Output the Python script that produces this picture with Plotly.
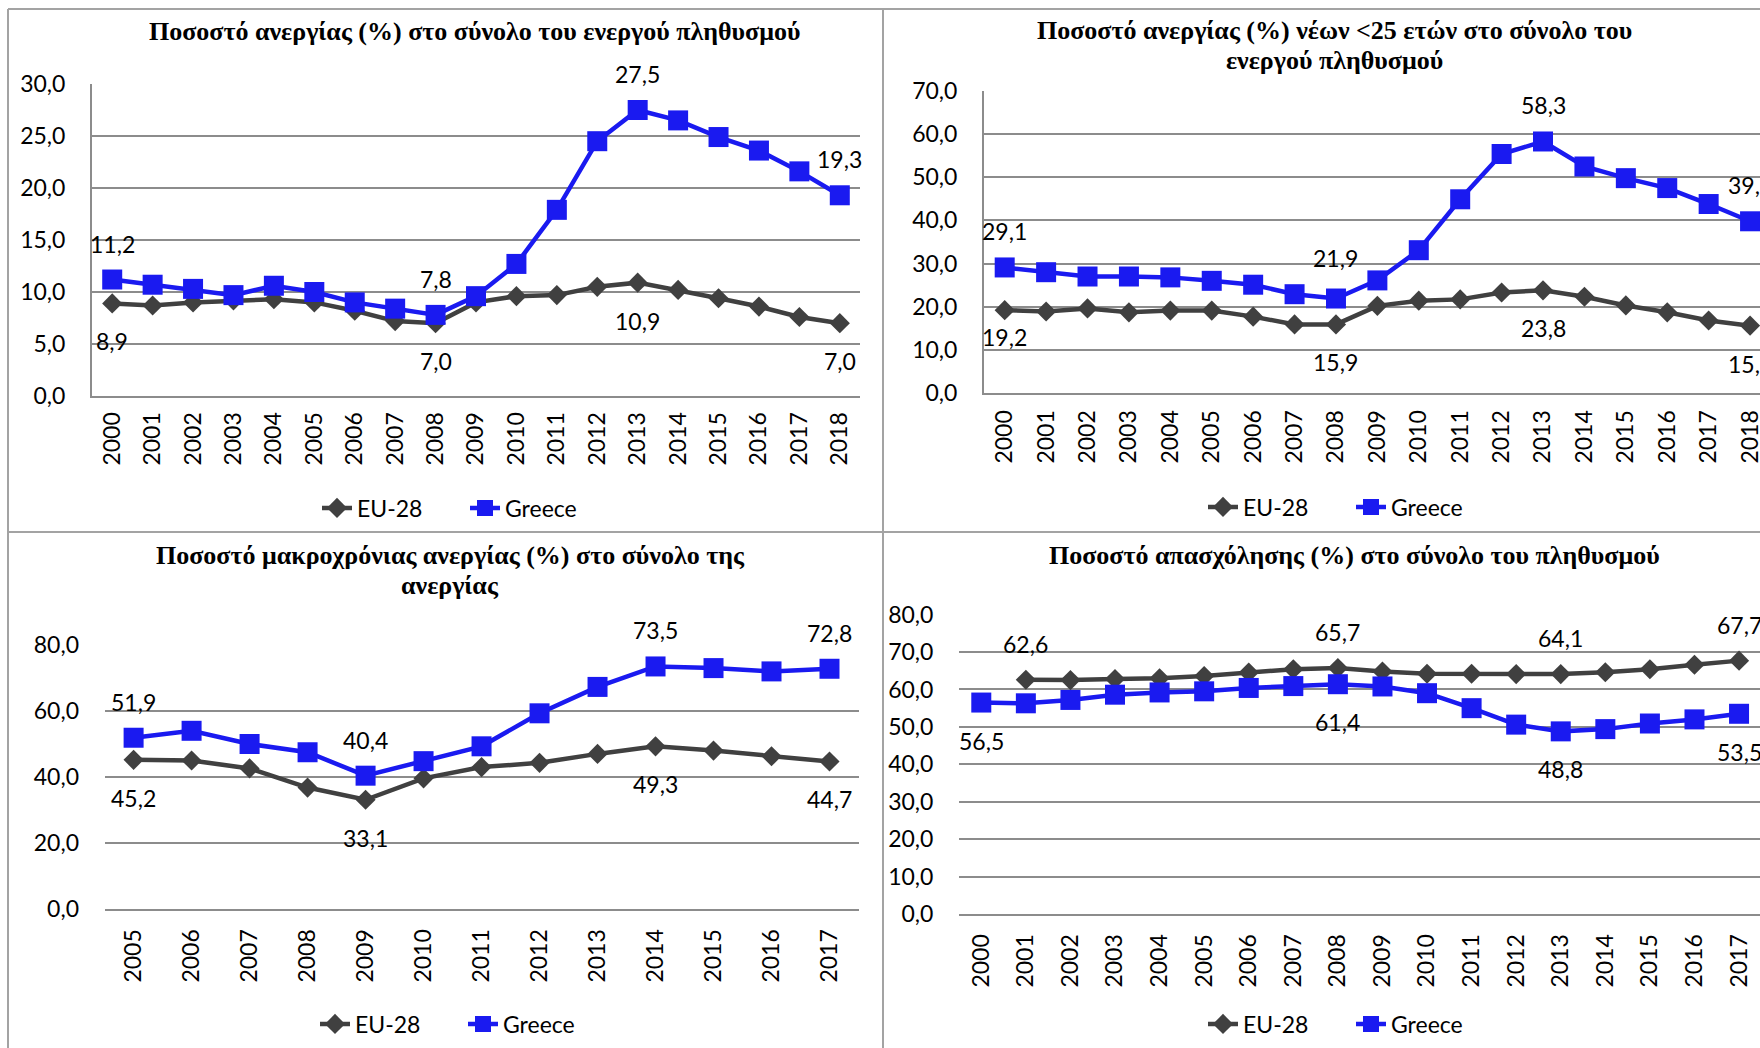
import plotly.graph_objects as go

W, H = 1760, 1048

# ---- categories -------------------------------------------------------
years_00_18 = ["2000", "2001", "2002", "2003", "2004", "2005", "2006", "2007", "2008", "2009",
               "2010", "2011", "2012", "2013", "2014", "2015", "2016", "2017", "2018"]
years_00_17 = years_00_18[:-1]
years_01_17 = years_00_18[1:-1]
years_05_17 = ["2005", "2006", "2007", "2008", "2009", "2010", "2011", "2012", "2013",
               "2014", "2015", "2016", "2017"]

# ---- series -----------------------------------------------------------
unemp_eu = [8.9, 8.7, 9.0, 9.2, 9.3, 9.0, 8.2, 7.2, 7.0, 9.0, 9.6, 9.7, 10.5, 10.9, 10.2, 9.4, 8.6, 7.6, 7.0]
unemp_gr = [11.2, 10.7, 10.3, 9.7, 10.6, 10.0, 9.0, 8.4, 7.8, 9.6, 12.7, 17.9, 24.5, 27.5, 26.5, 24.9, 23.6, 21.6, 19.3]

youth_eu = [19.2, 18.9, 19.6, 18.7, 19.1, 19.1, 17.7, 15.9, 15.9, 20.2, 21.4, 21.7, 23.3, 23.8, 22.3, 20.3, 18.7, 16.8, 15.6]
youth_gr = [29.1, 28.0, 27.0, 27.0, 26.8, 26.0, 25.1, 22.9, 21.9, 26.1, 33.1, 44.9, 55.4, 58.3, 52.5, 49.8, 47.5, 43.8, 39.8]

longterm_eu = [45.2, 45.0, 42.6, 36.8, 33.1, 39.6, 43.0, 44.3, 47.0, 49.3, 48.0, 46.3, 44.7]
longterm_gr = [51.9, 54.0, 50.0, 47.5, 40.4, 44.8, 49.3, 59.3, 67.3, 73.5, 73.0, 72.0, 72.8]

employ_eu = [62.6, 62.5, 62.8, 63.0, 63.6, 64.5, 65.4, 65.7, 64.8, 64.2, 64.2, 64.1, 64.1, 64.6, 65.4, 66.6, 67.7]
employ_gr = [56.5, 56.3, 57.2, 58.6, 59.2, 59.5, 60.4, 60.9, 61.4, 60.8, 59.0, 55.0, 50.6, 48.8, 49.4, 50.9, 52.0, 53.5]

# ---- titles (one entry per line) -----------------------------------------
titles = [
    ["Ποσοστό ανεργίας (%) στο σύνολο του ενεργού πληθυσμού"],
    ["Ποσοστό ανεργίας (%) νέων <25 ετών στο σύνολο του", "ενεργού πληθυσμού"],
    ["Ποσοστό μακροχρόνιας ανεργίας (%) στο σύνολο της", "ανεργίας"],
    ["Ποσοστό απασχόλησης (%) στο σύνολο του πληθυσμού"],
]

EU_COLOR = "#404040"
GR_COLOR = "#1A1AF0"
GRID = "#8c8c8c"
BORDER = "#a3a3a3"
TXT = "#000000"
SANS = "Lato, Open Sans, sans-serif"
SERIF = "Liberation Serif, DejaVu Serif, serif"
FS = 23
TITLE_FS = 26

ABOVE, BELOW = 36, -38

panels = [
    dict(cats=years_00_18, eu_x=years_00_18, eu=unemp_eu, gr=unemp_gr,
         yr=[0, 30], dt=5, xpx=(92, 860), ypx=(84, 396), xr=[-0.5, 18.5], yline=True,
         xlen=5,
         eu_lab={"2000": BELOW, "2008": BELOW, "2013": BELOW, "2018": BELOW},
         gr_lab={"2000": ABOVE, "2008": ABOVE, "2013": ABOVE, "2018": ABOVE},
         title_x=474, title_y=[31], legend_xy=(317, 508)),
    dict(cats=years_00_18, eu_x=years_00_18, eu=youth_eu, gr=youth_gr,
         yr=[0, 70], dt=10, xpx=(984, 1760), ypx=(91, 393), xr=[-0.5, 18.24], yline=True,
         xlen=6,
         eu_lab={"2000": -27, "2008": BELOW, "2013": BELOW, "2018": BELOW},
         gr_lab={"2000": ABOVE, "2008": 41, "2013": ABOVE, "2018": ABOVE},
         title_x=1334, title_y=[30.5, 61], legend_xy=(1203, 507)),
    dict(cats=years_05_17, eu_x=years_05_17, eu=longterm_eu, gr=longterm_gr,
         yr=[0, 80], dt=20, xpx=(104.6, 858.5), ypx=(645, 909), xr=[-0.5, 12.5], yline=False,
         xlen=9,
         eu_lab={"2005": BELOW, "2009": BELOW, "2014": BELOW, "2017": BELOW},
         gr_lab={"2005": ABOVE, "2009": ABOVE, "2014": ABOVE, "2017": ABOVE},
         title_x=450, title_y=[555, 585], legend_xy=(315, 1024)),
    dict(cats=years_00_17, eu_x=years_01_17, eu=employ_eu, gr=employ_gr,
         yr=[0, 80], dt=10, xpx=(959, 1760), ypx=(614.6, 914), xr=[-0.5, 17.47], yline=False,
         xlen=9,
         eu_lab={"2001": ABOVE, "2008": ABOVE, "2013": ABOVE, "2017": ABOVE},
         gr_lab={"2000": BELOW, "2008": BELOW, "2013": BELOW, "2017": BELOW},
         title_x=1354, title_y=[555], legend_xy=(1203, 1024)),
]


def fx(p):
    return p / W


def fy(p):
    return 1 - p / H


def fmt(v):
    return f"{v:.1f}".replace(".", ",")


fig = go.Figure()
annotations = []
layout = {}

for i, p in enumerate(panels):
    n = "" if i == 0 else str(i + 1)
    xa, ya = "x" + n, "y" + n
    leg = "legend" + n

    fig.add_trace(go.Scatter(
        x=p["eu_x"], y=p["eu"], name="EU-28", mode="lines+markers",
        line=dict(color=EU_COLOR, width=4.5),
        marker=dict(symbol="diamond", size=15.5, color=EU_COLOR),
        xaxis=xa, yaxis=ya, legend=leg, cliponaxis=False, hoverinfo="skip"))
    fig.add_trace(go.Scatter(
        x=p["cats"], y=p["gr"], name="Greece", mode="lines+markers",
        line=dict(color=GR_COLOR, width=4.5),
        marker=dict(symbol="square", size=20, color=GR_COLOR),
        xaxis=xa, yaxis=ya, legend=leg, cliponaxis=False, hoverinfo="skip"))

    # value labels on selected points
    for series_x, series_y, lab in ((p["eu_x"], p["eu"], p["eu_lab"]),
                                    (p["cats"], p["gr"], p["gr_lab"])):
        for yr_key, shift in lab.items():
            k = series_x.index(yr_key)
            annotations.append(dict(
                x=p["cats"].index(yr_key), y=series_y[k], xref=xa, yref=ya,
                text=fmt(series_y[k]), showarrow=False, yshift=shift,
                font=dict(family=SANS, size=FS, color=TXT)))

    # chart title, line by line
    for line_text, line_y in zip(titles[i], p["title_y"]):
        annotations.append(dict(
            x=fx(p["title_x"]), y=fy(line_y), xref="paper", yref="paper",
            text="<b>" + line_text + "</b>", showarrow=False,
            xanchor="center", yanchor="middle",
            font=dict(family=SERIF, size=TITLE_FS, color=TXT)))

    layout["xaxis" + n] = dict(
        type="category", categoryorder="array", categoryarray=p["cats"],
        domain=[fx(p["xpx"][0]), min(1.0, fx(p["xpx"][1]))], range=p["xr"],
        anchor=ya, tickangle=-90, ticks="outside", ticklen=p["xlen"],
        tickcolor="rgba(0,0,0,0)",
        showgrid=False, zeroline=False, showline=True, linecolor=GRID, linewidth=2,
        tickfont=dict(family=SANS, size=FS, color=TXT), fixedrange=True)
    layout["yaxis" + n] = dict(
        domain=[fy(p["ypx"][1]), fy(p["ypx"][0])], range=p["yr"], dtick=p["dt"],
        tick0=0, tickformat=".1f", anchor=xa, showgrid=True, gridcolor=GRID, gridwidth=2,
        zeroline=False, showline=p["yline"], linecolor=GRID, linewidth=2,
        ticks="outside", ticklen=20, tickcolor="rgba(0,0,0,0)",
        tickfont=dict(family=SANS, size=FS, color=TXT), fixedrange=True)
    layout[leg] = dict(
        orientation="h", x=fx(p["legend_xy"][0]), y=fy(p["legend_xy"][1]),
        xanchor="left", yanchor="middle", bgcolor="rgba(0,0,0,0)",
        font=dict(family=SANS, size=FS, color=TXT),
        entrywidth=103, entrywidthmode="pixels", tracegroupgap=0)

# panel frames
frame = [
    (8, 9, 8, H), (8, 9, W, 9), (883, 9, 883, H), (8, 532, W, 532),
]
shapes = [dict(type="line", xref="paper", yref="paper",
               x0=fx(a), y0=fy(b), x1=fx(c), y1=fy(d),
               line=dict(color=BORDER, width=2)) for a, b, c, d in frame]

fig.update_layout(
    width=W, height=H, margin=dict(l=0, r=0, t=0, b=0, autoexpand=False),
    paper_bgcolor="white", plot_bgcolor="white", separators=",.",
    showlegend=True, annotations=annotations, shapes=shapes, **layout)

fig.write_html("out.html")
